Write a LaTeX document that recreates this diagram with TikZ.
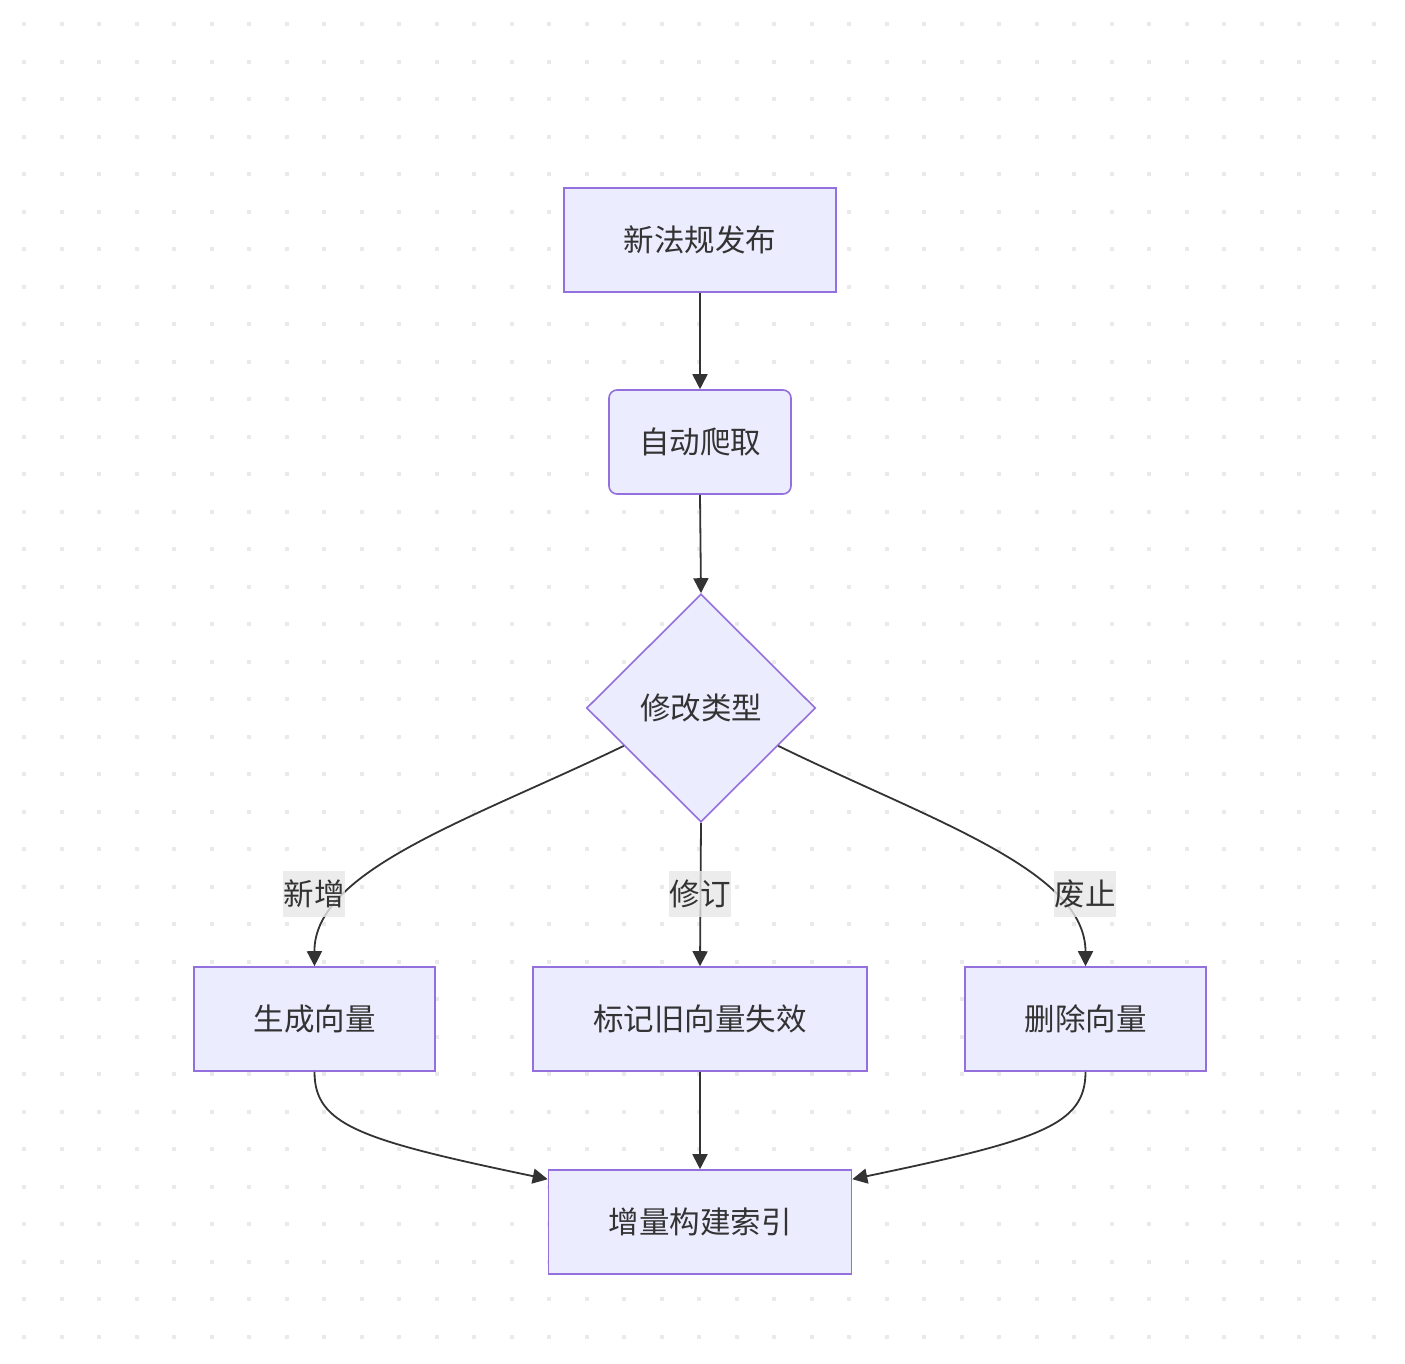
\documentclass[tikz,border=0pt]{standalone}
\usepackage{fontspec}
\setmainfont{Noto Sans CJK SC}
\usetikzlibrary{shapes.geometric,arrows.meta,calc}
\definecolor{nodefill}{HTML}{ECECFF}
\definecolor{nodeline}{HTML}{9370DB}
\definecolor{txt}{HTML}{333333}
\definecolor{edgecol}{HTML}{333333}
\definecolor{lblbg}{HTML}{E8E8E8}
\definecolor{dotcol}{HTML}{EAEAEA}
\begin{document}
\begin{tikzpicture}[x=1pt,y=-1pt,
  every node/.style={font=\fontsize{30.5}{36}\selectfont, text=txt},
  box/.style={draw=nodeline, fill=nodefill, line width=1.6pt, inner sep=0pt, minimum height=104pt},
  rbox/.style={box, rounded corners=8pt},
  dia/.style={draw=nodeline, fill=nodefill, line width=1.6pt, diamond, aspect=1, inner sep=0pt, minimum width=229pt, minimum height=228pt},
  lbl/.style={fill=lblbg, fill opacity=0.8, text opacity=1, inner xsep=0.5pt, inner ysep=0pt, minimum height=46pt},
  conn/.style={draw=edgecol, line width=1.8pt, -{Triangle[length=15pt,width=15pt]}}
]
\useasboundingbox (0,0) rectangle (1405,1363);
\fill[white] (0,0) rectangle (1405,1363);
\foreach \i in {0,...,36}{
  \foreach \j in {0,...,35}{
    \fill[dotcol] ({24+37.5*\i-2},{24+37.5*\j-2}) rectangle ++(4,4);
  }
}
\node[box, minimum width=272pt] (a) at (700,240) {新法规发布};
\node[rbox, minimum width=182pt] (b) at (700,442) {自动爬取};
\node[dia] (d) at (701,708) {修改类型};
\node[box, minimum width=241pt] (g) at (314.5,1019) {生成向量};
\node[box, minimum width=334pt] (m) at (700,1019) {标记旧向量失效};
\node[box, minimum width=241pt] (r) at (1085.5,1019) {删除向量};
\node[box, minimum width=303pt] (i) at (700,1222) {增量构建索引};

\coordinate (dl) at ($(d.west)!0.33!(d.south)$);
\coordinate (dr) at ($(d.east)!0.33!(d.south)$);
\coordinate (il) at ($(i.north west)+(0,10)$);
\coordinate (ir) at ($(i.north east)+(0,10)$);

\draw[conn] (a.south) -- (b.north);
\draw[conn] (b.south) -- (d.north);
\draw[conn] (dl) .. controls (470,820) and (314,870) .. (g.north);
\draw[conn] (d.south) -- (m.north);
\draw[conn] (dr) .. controls (930,820) and (1085.5,870) .. (r.north);
\draw[conn] (g.south) .. controls (314.5,1125) and (360,1140) .. (il);
\draw[conn] (m.south) -- (i.north);
\draw[conn] (r.south) .. controls (1085.5,1125) and (1040,1140) .. (ir);

\node[lbl] (l1) at (314,894) {新增};
\node[lbl] (l2) at (700,894) {修订};
\node[lbl] (l3) at (1085,894) {废止};
\end{tikzpicture}
\end{document}
